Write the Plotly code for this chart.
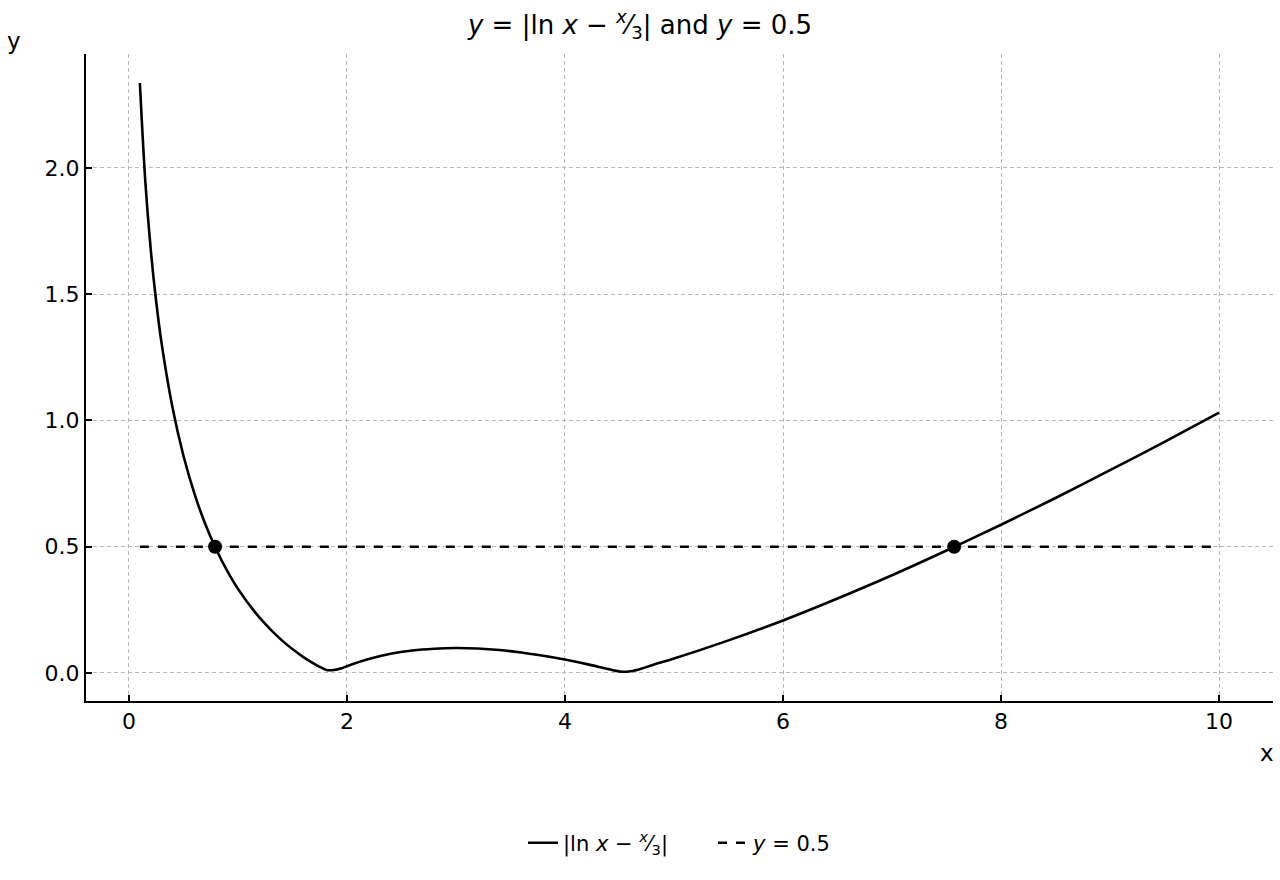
import plotly.graph_objects as go

# Values
x_curve = [0.1, 0.15, 0.2, 0.25, 0.3, 0.4, 0.5, 0.6, 0.7, 0.8, 0.9, 1.0, 1.2, 1.4, 1.6, 1.7,
           1.76, 1.82, 1.88, 1.95, 2.0, 2.2, 2.4, 2.6, 2.8, 3.0, 3.2, 3.4, 3.6, 3.8, 4.0, 4.2, 4.35,
           4.45, 4.52, 4.6, 4.7, 4.8, 5.0, 5.5, 6.0, 6.5, 7.0, 7.5, 8.0, 8.5, 9.0, 9.5, 10.0]
y_curve = [2.336, 1.947, 1.676, 1.470, 1.304, 1.050, 0.860, 0.711, 0.590, 0.490, 0.405, 0.333,
           0.218, 0.130, 0.063, 0.036, 0.022, 0.011, 0.012, 0.019, 0.027, 0.055, 0.076, 0.089, 0.096,
           0.099, 0.097, 0.091, 0.081, 0.068, 0.053, 0.035, 0.020, 0.010, 0.005, 0.007, 0.017, 0.031, 0.057,
           0.129, 0.208, 0.295, 0.387, 0.485, 0.587, 0.693, 0.803, 0.915, 1.031]
x_hline = [0.1, 10.0]
y_hline = [0.5, 0.5]
x_inter = [0.79, 7.57]
y_inter = [0.5, 0.5]

font = "DejaVu Sans"
frac = "<sup><i>x</i></sup>⁄<sub>3</sub>"

fig = go.Figure()
fig.add_trace(go.Scatter(x=x_curve, y=y_curve, mode="lines",
                         line=dict(color="black", width=2.6, shape="spline", smoothing=0.8),
                         name="|ln <i>x</i> − " + frac + "|" + "&nbsp;" * 6))
fig.add_trace(go.Scatter(x=x_hline, y=y_hline, mode="lines", line=dict(color="black", width=2.6, dash="dash"),
                         name="<i>y</i> = 0.5"))
fig.add_trace(go.Scatter(x=x_inter, y=y_inter, mode="markers", marker=dict(color="black", size=14),
                         showlegend=False))

grid = "#b8b8b8"
fig.update_layout(
    width=1280, height=880,
    margin=dict(l=86, r=7, t=54, b=179),
    paper_bgcolor="white", plot_bgcolor="white",
    font=dict(family=font, size=22, color="black"),
    title=dict(text="<i>y</i> = |ln <i>x</i> − " + frac + "| and <i>y</i> = 0.5",
               x=0.5, xanchor="center", y=0.972, yanchor="middle", font=dict(size=26)),
    legend=dict(orientation="h", x=0.5, xanchor="center", y=-0.188, yanchor="top",
                font=dict(size=21)),
)
fig.update_xaxes(range=[-0.394, 10.495], tickvals=[0, 2, 4, 6, 8, 10], showline=True, linecolor="black",
                 linewidth=2, ticks="inside", ticklen=6, tickwidth=2, tickcolor="black",
                 showgrid=True, gridcolor=grid, griddash="4px,3px", gridwidth=1, zeroline=False,
                 mirror=False)
fig.update_yaxes(range=[-0.111, 2.451], tickvals=[0, 0.5, 1.0, 1.5, 2.0], tickformat=".1f",
                 showline=True, linecolor="black", linewidth=2, ticks="inside", ticklen=6, tickwidth=2,
                 tickcolor="black", showgrid=True, gridcolor=grid, griddash="4px,3px", gridwidth=1,
                 zeroline=False)
fig.add_annotation(text="y", xref="paper", yref="paper", x=-0.061, y=1.02, showarrow=False,
                   xanchor="center", yanchor="middle", font=dict(size=23))
fig.add_annotation(text="x", xref="paper", yref="paper", x=0.995, y=-0.081, showarrow=False,
                   xanchor="center", yanchor="middle", font=dict(size=23))

fig.write_html("out.html")
